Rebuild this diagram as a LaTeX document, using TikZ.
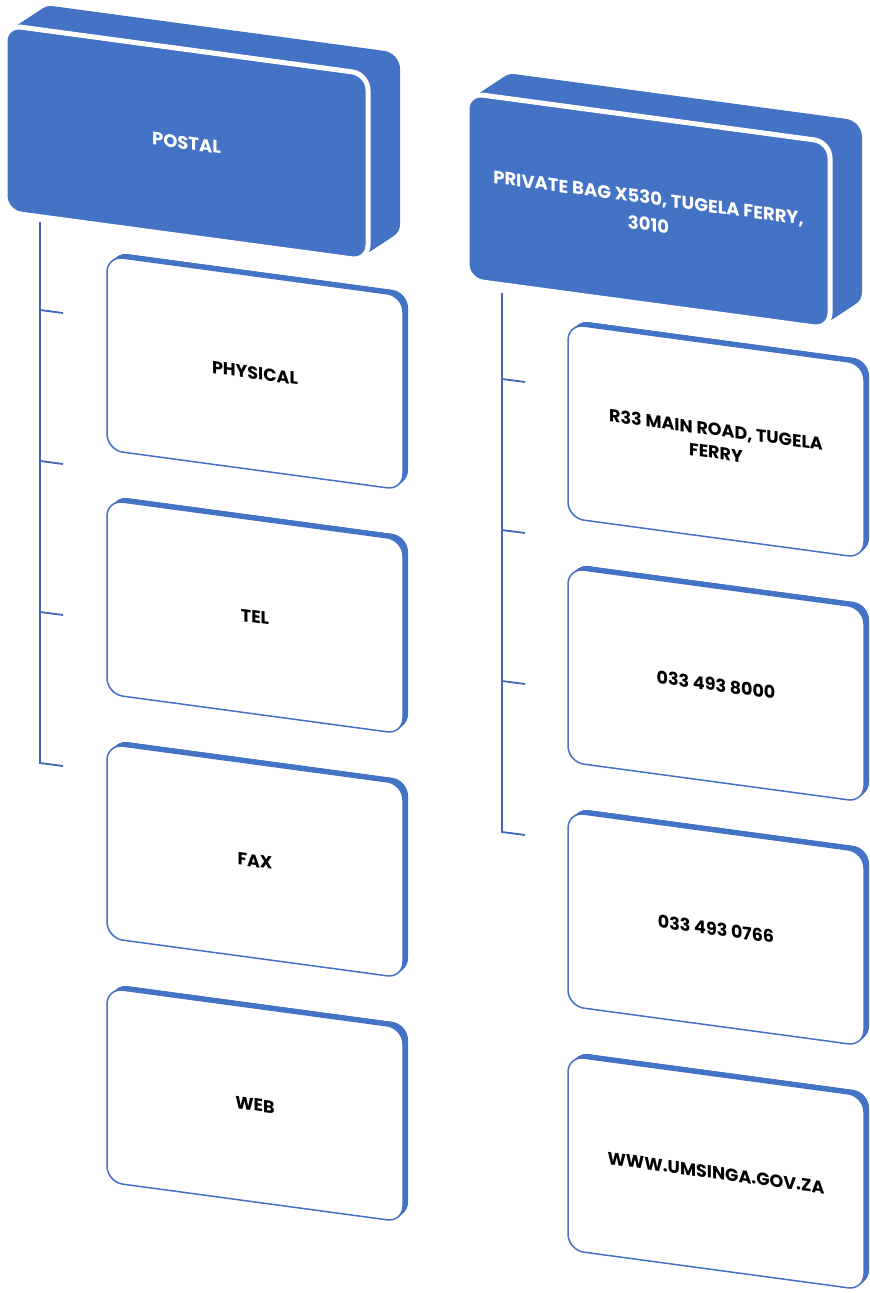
\documentclass[tikz,border=0pt]{standalone}
\usepackage{fontspec}
\setmainfont{Poppins}
\definecolor{boxblue}{HTML}{4472C4}
\definecolor{lineblue}{HTML}{3F67B5}
\tikzset{
  slope/.style={yslant=-0.135},
  hdrface/.style={rectangle, rounded corners=16pt, fill=boxblue, draw=white,
    line width=5pt, minimum width=363pt, minimum height=187pt, inner sep=0pt,
    transform shape, text=white, align=center, font=\fontsize{18}{27}\selectfont\bfseries},
  itemface/.style={rectangle, rounded corners=16pt, fill=white, draw=boxblue,
    line width=1.5pt, minimum width=296pt, minimum height=194pt, inner sep=0pt,
    transform shape, text=black, align=center, font=\fontsize{17.5}{23}\selectfont\bfseries},
  conn/.style={draw=lineblue, line width=1.8pt, line join=miter}
}
% solid slab swept from the front face towards its back face
\newcommand\extrude[6]{%
  \foreach \k in {0,0.05,...,1.0001}{%
    \fill[boxblue, rounded corners=16pt, shift={({#1+\k*(#5)},{#2+\k*(#6)})}, slope]
      (0,0) rectangle (#3,#4);
  }}
% header block: x, y of the front face's top-left corner, name, text
\newcommand\headerbox[4]{%
  \extrude{#1}{#2}{363}{187}{32}{-21}
  \begin{scope}[shift={(#1,#2)}, slope]
    \node[hdrface] (#3) at (181.5,93.5) {#4};
  \end{scope}}
% item block: x, y of the front face's top-left corner, name, text
\newcommand\itembox[4]{%
  \extrude{#1}{#2}{296}{194}{5}{-4}
  \begin{scope}[shift={(#1,#2)}, slope]
    \node[itemface] (#3) at (148,97) {#4};
  \end{scope}}

\begin{document}
\begin{tikzpicture}[x=1pt, y=-1pt]
\useasboundingbox (0,0) rectangle (870,1293);

% left column
\headerbox{5}{25}{postal}{POSTAL}
\itembox{107}{256}{physical}{PHYSICAL}
\itembox{107}{500}{tel}{TEL}
\itembox{107}{744}{fax}{FAX}
\itembox{107}{988}{web}{WEB}

% right column
\headerbox{467}{93}{bag}{PRIVATE BAG X530, TUGELA FERRY,\\3010}
\itembox{568}{324}{road}{R33 MAIN ROAD, TUGELA\\FERRY}
\itembox{568}{568}{phone}{033 493 8000}
\itembox{568}{812}{faxno}{033 493 0766}
\itembox{568}{1056}{site}{WWW.UMSINGA.GOV.ZA}

% left bracket
\coordinate (la0) at (40,222);
\coordinate (la1) at (40,310); \coordinate (lb1) at (63,313);
\coordinate (la2) at (40,461); \coordinate (lb2) at (63,464);
\coordinate (la3) at (40,612); \coordinate (lb3) at (63,615);
\coordinate (la4) at (40,763); \coordinate (lb4) at (63,766);
\draw[conn] (la0) -- (la4) -- (lb4);
\foreach \i in {1,2,3} \draw[conn] (la\i) -- (lb\i);

% right bracket
\coordinate (ra0) at (502,293);
\coordinate (ra1) at (502,379); \coordinate (rb1) at (525,382);
\coordinate (ra2) at (502,530); \coordinate (rb2) at (525,533);
\coordinate (ra3) at (502,681); \coordinate (rb3) at (525,684);
\coordinate (ra4) at (502,832); \coordinate (rb4) at (525,835);
\draw[conn] (ra0) -- (ra4) -- (rb4);
\foreach \i in {1,2,3} \draw[conn] (ra\i) -- (rb\i);
\end{tikzpicture}
\end{document}
